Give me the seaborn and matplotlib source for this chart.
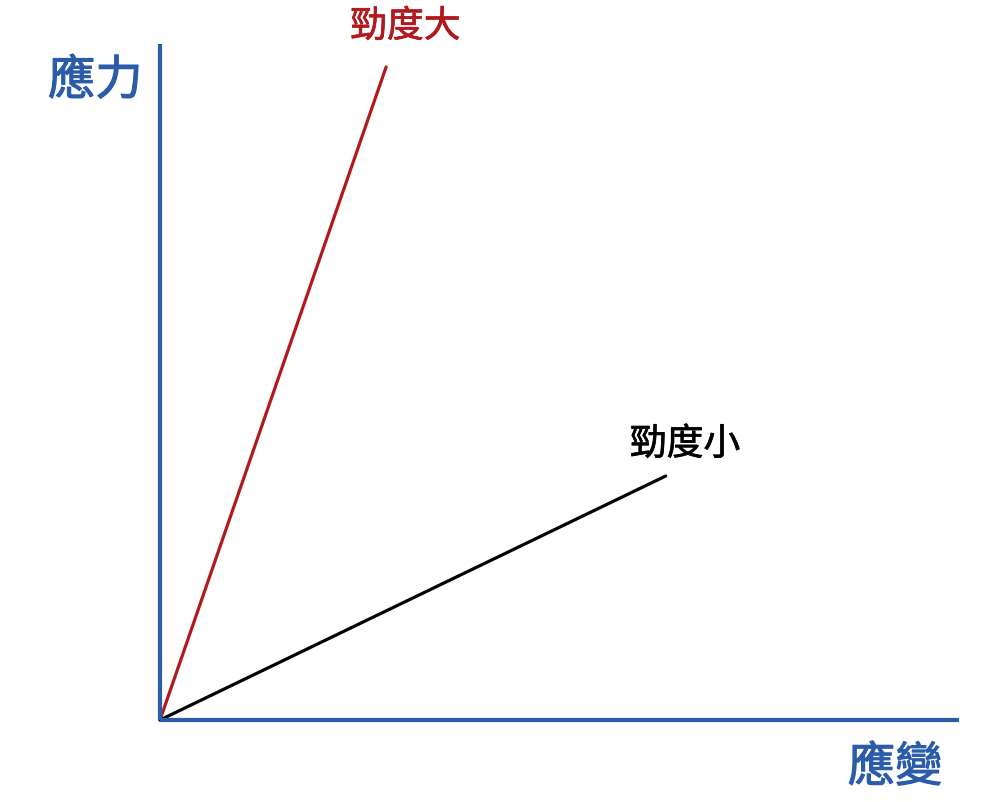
import matplotlib
matplotlib.use("Agg")
import matplotlib.pyplot as plt
import matplotlib.patheffects as pe
import pandas as pd
import seaborn as sns

# ===========
# DATA
# ===========
curve_names = ["勁度大", "勁度小"]
strain_values = [[0, 28.3], [0, 63.3]]
stress_values = [[0, 96.6], [0, 36.1]]
curve_colors = ["#b0191e", "#000000"]
y_label = "應力"
x_label = "應變"

AXIS_BLUE = "#2b5ca9"

sns.set_style("white")
plt.rcParams['font.family'] = ['Noto Sans CJK TC', 'DejaVu Sans']

rows = []
for name, xs, ys in zip(curve_names, strain_values, stress_values):
    for x, y in zip(xs, ys):
        rows.append({"curve": name, "strain": x, "stress": y})
df = pd.DataFrame(rows)

fig = plt.figure(figsize=(10, 8.02), dpi=100)
# axes box matches the origin and the axis ends of the reference
ax = fig.add_axes([0.160, 82 / 802, 0.799, 676 / 802])

sns.lineplot(data=df, x="strain", y="stress", hue="curve",
             palette=dict(zip(curve_names, curve_colors)),
             linewidth=2.3, legend=False, ax=ax, clip_on=False)

ax.set_xlim(0, 100)
ax.set_ylim(0, 100)
ax.set_xticks([])
ax.set_yticks([])
ax.set_xlabel("")
ax.set_ylabel("")
for side in ["top", "right"]:
    ax.spines[side].set_visible(False)
for side in ["left", "bottom"]:
    ax.spines[side].set_color(AXIS_BLUE)
    ax.spines[side].set_linewidth(3.0)
    ax.spines[side].set_capstyle("butt")


def heavier(color, width):
    # regular weight with a thin outline looks like the medium weight of the reference
    return [pe.withStroke(linewidth=width, foreground=color)]


# curve labels
ax.text(30.7, 102.6, curve_names[0], color=curve_colors[0], fontsize=26.5,
        ha="center", va="center", clip_on=False,
        path_effects=heavier(curve_colors[0], 0.5))
ax.text(65.7, 40.8, curve_names[1], color=curve_colors[1], fontsize=26.5,
        ha="center", va="center", clip_on=False,
        path_effects=heavier(curve_colors[1], 0.5))

# axis names
ax.text(-8.1, 94.5, y_label, color=AXIS_BLUE, fontsize=34,
        ha="center", va="center", clip_on=False,
        path_effects=heavier(AXIS_BLUE, 0.8))
ax.text(92.0, -7.1, x_label, color=AXIS_BLUE, fontsize=34,
        ha="center", va="center", clip_on=False,
        path_effects=heavier(AXIS_BLUE, 0.8))

fig.savefig("out.png", dpi=100, facecolor="white")
